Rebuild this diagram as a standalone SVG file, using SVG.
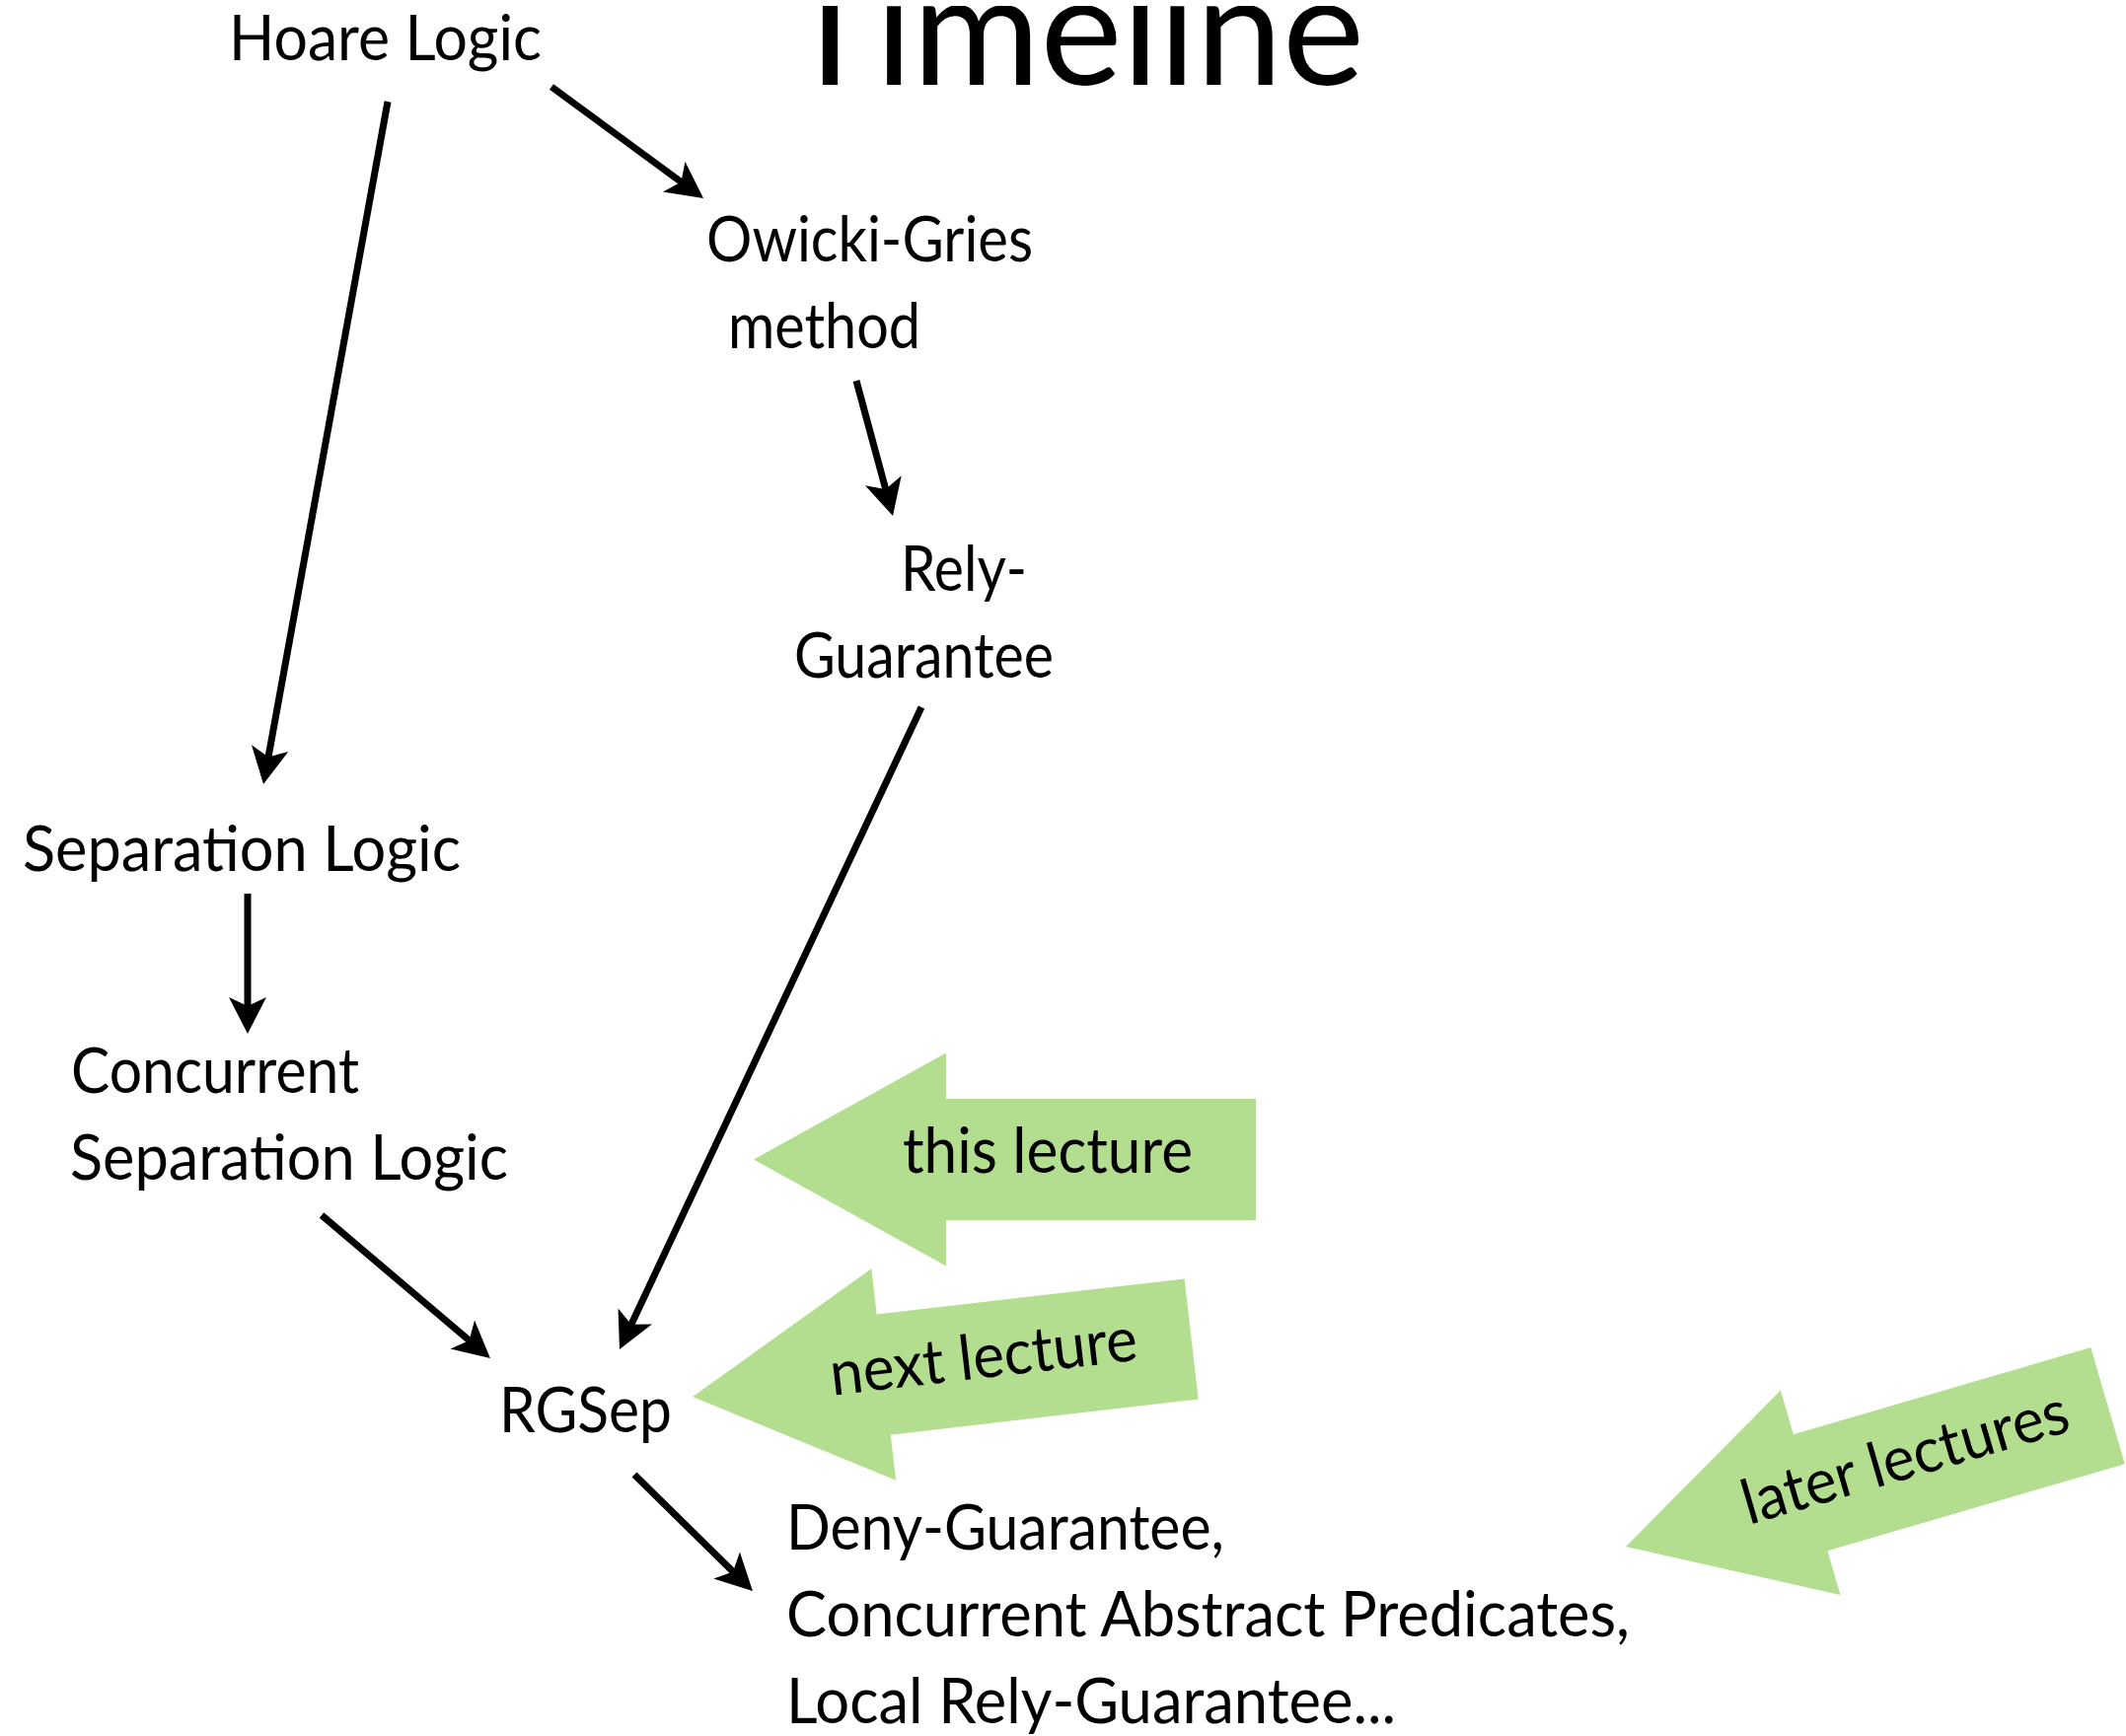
<svg xmlns="http://www.w3.org/2000/svg" xmlns:xlink="http://www.w3.org/1999/xlink" width="2155" height="1760" viewBox="0 0 2155 1760">
  <style>
    .lbl { font-family: "Lato", "Liberation Sans", sans-serif; font-size: 63px; fill: #000; }
    .title { font-family: "Lato", "Liberation Sans", sans-serif; font-size: 158px; fill: #000; }
    .edge { stroke: #000; stroke-width: 7; fill: none; marker-end: url(#head); }
    .pointer { fill: #b3de8f; }
  </style>
  <defs>
    <!-- stealth-style arrowhead; tip sits 20 units past the line end -->
    <marker id="head" markerUnits="userSpaceOnUse" orient="auto" refX="0" refY="0" markerWidth="1" markerHeight="1" overflow="visible">
      <path d="M20,0 L-17,-19 L-8,0 L-17,19 Z" fill="#000"/>
    </marker>
    <!-- block arrow, tip at origin, body extending to +x -->
    <polygon id="blockArrow" class="pointer" points="0,0 195,-108 195,-61.5 509,-61.5 509,61.5 195,61.5 195,108"/>
    <!-- the title is cropped by the top of the frame -->
    <clipPath id="titleCrop">
      <rect x="0" y="6" width="2155" height="200"/>
    </clipPath>
  </defs>

  <rect width="2155" height="1760" fill="#fff"/>

  <text id="title" class="title" x="795" y="86" textLength="588" lengthAdjust="spacingAndGlyphs" clip-path="url(#titleCrop)">Timeline</text>

  <g id="connectors">
    <line class="edge" x1="393" y1="103" x2="270.6" y2="775.3"/>
    <line class="edge" x1="559" y1="88" x2="696.9" y2="189.2"/>
    <line class="edge" x1="868" y1="386" x2="899.8" y2="503.7"/>
    <line class="edge" x1="251" y1="906" x2="251" y2="1028"/>
    <line class="edge" x1="934" y1="717" x2="636.5" y2="1349.9"/>
    <line class="edge" x1="326" y1="1232" x2="481.7" y2="1364.1"/>
    <line class="edge" x1="643" y1="1495" x2="748.7" y2="1599"/>
  </g>

  <g id="hoare">
    <text class="lbl" x="232" y="61" textLength="317" lengthAdjust="spacingAndGlyphs">Hoare Logic</text>
  </g>
  <g id="owicki-gries">
    <text class="lbl" x="716" y="265" textLength="331" lengthAdjust="spacingAndGlyphs">Owicki-Gries</text>
    <text class="lbl" x="738" y="353" textLength="195" lengthAdjust="spacingAndGlyphs">method</text>
  </g>
  <g id="rely-guarantee">
    <text class="lbl" x="913" y="599" textLength="128" lengthAdjust="spacingAndGlyphs">Rely-</text>
    <text class="lbl" x="805" y="687" textLength="263" lengthAdjust="spacingAndGlyphs">Guarantee</text>
  </g>
  <g id="separation-logic">
    <text class="lbl" x="23" y="883" textLength="444" lengthAdjust="spacingAndGlyphs">Separation Logic</text>
  </g>
  <g id="csl">
    <text class="lbl" x="72" y="1108" textLength="292" lengthAdjust="spacingAndGlyphs">Concurrent</text>
    <text class="lbl" x="71" y="1196" textLength="444" lengthAdjust="spacingAndGlyphs">Separation Logic</text>
  </g>
  <g id="rgsep">
    <text class="lbl" x="506" y="1452" textLength="175" lengthAdjust="spacingAndGlyphs">RGSep</text>
  </g>
  <g id="successors">
    <text class="lbl" x="797" y="1571" textLength="444" lengthAdjust="spacingAndGlyphs">Deny-Guarantee,</text>
    <text class="lbl" x="797" y="1659" textLength="855" lengthAdjust="spacingAndGlyphs">Concurrent Abstract Predicates,</text>
    <text class="lbl" x="797" y="1747" textLength="618" lengthAdjust="spacingAndGlyphs">Local Rely-Guarantee...</text>
  </g>

  <g id="this-lecture" transform="translate(764,1175.5)">
    <use xlink:href="#blockArrow"/>
    <text class="lbl" x="151" y="13.5" textLength="294" lengthAdjust="spacingAndGlyphs">this lecture</text>
  </g>
  <g id="next-lecture" transform="translate(702,1416) rotate(-6.6)">
    <use xlink:href="#blockArrow"/>
    <text class="lbl" x="141" y="15" textLength="313" lengthAdjust="spacingAndGlyphs">next lecture</text>
  </g>
  <g id="later-lectures" transform="translate(1648,1568) rotate(-16.3)">
    <use xlink:href="#blockArrow"/>
    <text class="lbl" x="126" y="14" textLength="342" lengthAdjust="spacingAndGlyphs">later lectures</text>
  </g>
</svg>
